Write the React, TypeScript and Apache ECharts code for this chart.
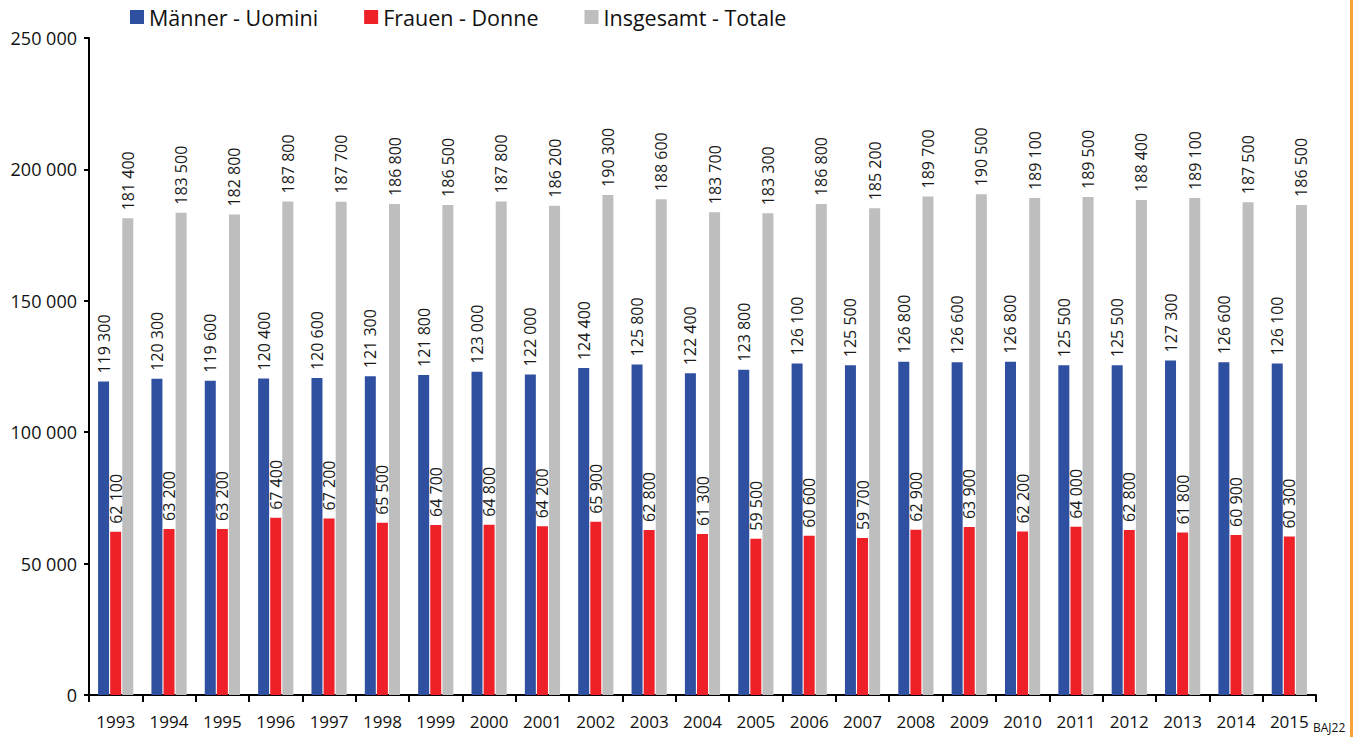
import React, { useEffect, useRef } from "react";
import * as echarts from "echarts";

const years = ["1993","1994","1995","1996","1997","1998","1999","2000","2001","2002","2003","2004","2005","2006","2007","2008","2009","2010","2011","2012","2013","2014","2015"];
const maenner = [119300,120300,119600,120400,120600,121300,121800,123000,122000,124400,125800,122400,123800,126100,125500,126800,126600,126800,125500,125500,127300,126600,126100];
const frauen = [62100,63200,63200,67400,67200,65500,64700,64800,64200,65900,62800,61300,59500,60600,59700,62900,63900,62200,64000,62800,61800,60900,60300];
const totale = [181400,183500,182800,187800,187700,186800,186500,187800,186200,190300,188600,183700,183300,186800,185200,189700,190500,189100,189500,188400,189100,187500,186500];

const FONT = "'Open Sans', 'Noto Sans', sans-serif";
const fmt = (v: number) => {
  const s = String(Math.round(v));
  return s.replace(/\B(?=(\d{3})+(?!\d))/g, " ");
};

export default function App() {
  const ref = useRef<HTMLDivElement>(null);
  useEffect(() => {
    if (!ref.current) return;
    const chart = echarts.init(ref.current, null, { renderer: "svg" });
    const label = {
      show: true,
      position: "top",
      rotate: 90,
      align: "left",
      verticalAlign: "middle",
      distance: 8,
      fontSize: 16,
      fontFamily: FONT,
      color: "#1a1a1a",
      formatter: (p: any) => fmt(p.value),
    };
    const mk = (name: string, data: number[], color: string) => ({
      name,
      type: "bar",
      data,
      barWidth: 11,
      barGap: "10%",
      itemStyle: { color },
      label,
    });
    chart.setOption({
      animation: false,
      textStyle: { fontFamily: FONT },
      legend: {
        left: 125,
        top: 1,
        itemWidth: 14,
        itemHeight: 14,
        itemGap: 46,
        icon: "rect",
        textStyle: { fontSize: 21.5, fontFamily: FONT, color: "#111" },
        data: ["Männer - Uomini", "Frauen - Donne", "Insgesamt - Totale"],
      },
      grid: { left: 89, right: 49, top: 38, bottom: 42, containLabel: false },
      xAxis: {
        type: "category",
        data: years,
        axisLine: { lineStyle: { color: "#000", width: 2 } },
        axisTick: { show: true, length: 7, lineStyle: { color: "#000", width: 2 } },
        axisLabel: { fontSize: 17, fontFamily: FONT, color: "#111", margin: 18, interval: 0 },
      },
      yAxis: {
        type: "value",
        min: 0,
        max: 250000,
        interval: 50000,
        axisLine: { show: true, lineStyle: { color: "#000", width: 2 } },
        axisTick: { show: true, length: 5, lineStyle: { color: "#000", width: 2 } },
        splitLine: { show: false },
        axisLabel: {
          fontSize: 18,
          fontFamily: FONT,
          color: "#111",
          margin: 12,
          formatter: (v: number) => fmt(v),
        },
      },
      graphic: [
        { type: "rect", shape: { x: 1350, y: 0, width: 3, height: 737 }, style: { fill: "#F7A13B" } },
        {
          type: "text",
          x: 1313,
          y: 727,
          style: { text: "BAJ22", fontSize: 12, fontFamily: FONT, fill: "#111", verticalAlign: "middle" },
        },
      ],
      series: [
        mk("Männer - Uomini", maenner, "#2F4FA0"),
        mk("Frauen - Donne", frauen, "#EE2128"),
        mk("Insgesamt - Totale", totale, "#BEBEBE"),
      ],
    });
    return () => chart.dispose();
  }, []);
  return <div ref={ref} style={{ position: "absolute", left: 0, top: 0, width: 1365, height: 737 }} />;
}
